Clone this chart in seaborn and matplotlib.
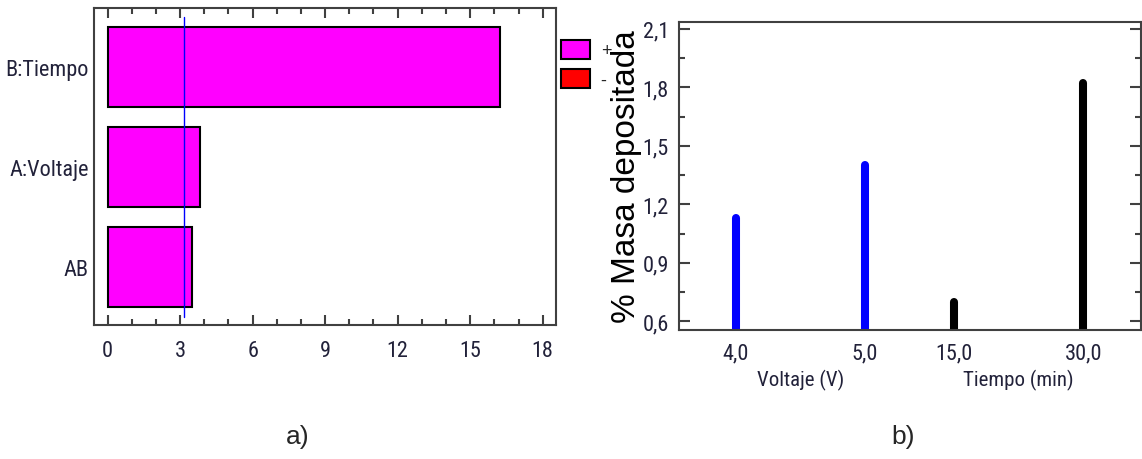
import matplotlib
matplotlib.use("Agg")
import matplotlib.pyplot as plt
import matplotlib.transforms as mtransforms
from matplotlib import font_manager
from matplotlib.patches import Patch
from matplotlib.ticker import MultipleLocator, FuncFormatter
import seaborn as sns
import pandas as pd

# panel a) - standardized Pareto chart
EFFECTS = ["B:Tiempo", "A:Voltaje", "AB"]
EFFECT_VALUES = [16.22, 3.83, 3.48]
T_CRITICAL = 3.18

# panel b) - main effects on deposited mass
FACTORS = ["Voltaje (V)", "Tiempo (min)"]
LEVEL_LABELS = [["4,0", "5,0"], ["15,0", "30,0"]]
MASS_MEANS = [[1.13, 1.40], [0.70, 1.82]]

MAGENTA = "#FF00FF"
RED = "#FF0000"
STEM_COLORS = ["#0000FF", "#000000"]
FRAME = "#404040"
TICK_TEXT = "#22223a"
GROUP_STEP = 1.69


def pick_narrow():
    names = sorted({f.name for f in font_manager.fontManager.ttflist})
    for pref in ["Liberation Sans Narrow", "Arial Narrow", "Roboto Condensed",
                 "Open Sans Condensed", "DejaVu Sans Condensed"]:
        if pref in names:
            return pref, "normal"
    for n in names:
        if "Narrow" in n or "Condensed" in n:
            return n, "normal"
    for f in font_manager.fontManager.ttflist:
        if f.name == "DejaVu Sans" and f.stretch in ("condensed", "semi-condensed"):
            return "DejaVu Sans", "condensed"
    return None, None


sns.set_style("white")
NARROW, STRETCH = pick_narrow()
if NARROW is None:
    plt.rcParams["font.family"] = ["Liberation Sans", "DejaVu Sans"]
    TICK_SIZE = 14
else:
    plt.rcParams["font.family"] = [NARROW, "DejaVu Sans"]
    plt.rcParams["font.stretch"] = STRETCH
    TICK_SIZE = 16

W, H = 1142, 460
fig = plt.figure(figsize=(W / 100, H / 100), dpi=100)
ax1 = fig.add_axes([94.3 / W, 1 - 326 / H, (556 - 94.3) / W, (326 - 9.3) / H])
ax2 = fig.add_axes([679.3 / W, 1 - 330.7 / H, (1141 - 679.3) / W, (330.7 - 22.7) / H])

# ---- a) ----
sns.barplot(x=EFFECT_VALUES, y=EFFECTS, orient="h", color=MAGENTA, saturation=1,
            edgecolor="black", linewidth=1.5, width=0.8, ax=ax1)
ax1.set_xlim(-0.55, 18.55)
ax1.set_ylim(2.585, -0.585)
ax1.axvline(T_CRITICAL, ymin=0.024, ymax=0.972, color="#0000FF", lw=1)
ax1.xaxis.set_major_locator(MultipleLocator(3))
ax1.xaxis.set_minor_locator(MultipleLocator(1))
ax1.tick_params(axis="x", which="both", direction="in", top=True, bottom=True,
                color=FRAME, width=1.5, labelsize=TICK_SIZE, labelcolor=TICK_TEXT, pad=11)
ax1.tick_params(axis="x", which="major", length=7)
ax1.tick_params(axis="x", which="minor", length=4)
ax1.tick_params(axis="y", length=0, pad=4, labelsize=TICK_SIZE, labelcolor=TICK_TEXT)
ax1.set_xlabel("")
ax1.set_ylabel("")

fig.legend(handles=[Patch(facecolor=MAGENTA, edgecolor="black", lw=1.5, label="+"),
                    Patch(facecolor=RED, edgecolor="black", lw=1.5, label="-")],
           loc="upper left", bbox_to_anchor=(561 / W, 1 - 41 / H), frameon=False,
           handlelength=1.6, handleheight=1.2, handletextpad=0.6, labelspacing=0.55,
           borderpad=0, borderaxespad=0, prop={"family": "Liberation Sans", "size": 13})

# ---- b) ----
rows = []
for g, factor in enumerate(FACTORS):
    for j, (lab, val) in enumerate(zip(LEVEL_LABELS[g], MASS_MEANS[g])):
        rows.append({"factor": factor, "group": g, "level": lab, "mass": val,
                     "pos": g * GROUP_STEP + j})
df = pd.DataFrame(rows)

ax2.vlines(df["pos"], 0.5, df["mass"], colors=[STEM_COLORS[g] for g in df["group"]],
           linewidth=5.8, capstyle="round")
ax2.set_xlim(-0.439, 3.137)
ax2.set_ylim(0.557, 2.137)
ax2.yaxis.set_major_locator(MultipleLocator(0.3))
ax2.yaxis.set_minor_locator(MultipleLocator(0.15))
ax2.yaxis.set_major_formatter(FuncFormatter(lambda v, p: f"{v:.1f}".replace(".", ",")))
ax2.tick_params(axis="y", which="both", direction="in", left=True, right=True,
                color=FRAME, width=1.5, labelsize=TICK_SIZE, labelcolor=TICK_TEXT, pad=7.5)
ax2.tick_params(axis="y", which="major", length=8)
ax2.tick_params(axis="y", which="minor", length=4)
ax2.set_xticks(df["pos"], labels=df["level"])
ax2.tick_params(axis="x", length=0, pad=9, labelsize=TICK_SIZE, labelcolor=TICK_TEXT)

trans = mtransforms.blended_transform_factory(ax2.transData, ax2.transAxes)
for factor, grp in df.groupby("factor", sort=False):
    ax2.text(grp["pos"].mean(), -0.163, factor, transform=trans, ha="center",
             va="center", fontsize=TICK_SIZE - 1, color=TICK_TEXT)

ax2.set_ylabel("% Masa depositada", fontsize=24, family="Liberation Sans",
               stretch="normal", color="black")
ax2.yaxis.set_label_coords(-0.081, 0.5)

for ax in (ax1, ax2):
    for sp in ax.spines.values():
        sp.set_color(FRAME)
        sp.set_linewidth(1.5)

fig.text(298 / W, 1 - 437 / H, "a)", ha="center", va="center", fontsize=19,
         family="Liberation Sans", stretch="normal")
fig.text(903 / W, 1 - 437 / H, "b)", ha="center", va="center", fontsize=19,
         family="Liberation Sans", stretch="normal")

fig.savefig("out.png", dpi=100)
